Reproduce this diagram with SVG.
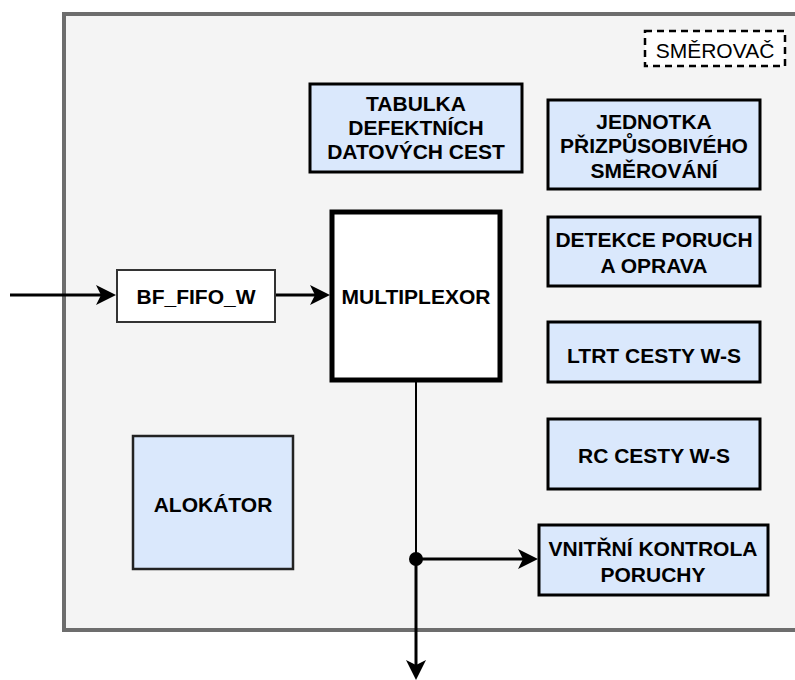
<svg xmlns="http://www.w3.org/2000/svg" width="795" height="680" viewBox="0 0 795 680">
  <style>
    .lbl { font-family: "Liberation Sans", Arial, sans-serif; font-size: 21px; font-weight: bold; fill: #000; text-anchor: middle; }
    .blk { fill: #dae8fc; stroke: #000; stroke-width: 3; }
    .wire { fill: none; stroke: #000; stroke-width: 3; }
  </style>
  <defs>
    <marker id="arrow" viewBox="0 -11 21 22" refX="10" refY="0" markerWidth="21" markerHeight="22" markerUnits="userSpaceOnUse" orient="auto">
      <path d="M20,0 L0,-10 L5,0 L0,10 Z" fill="#000"/>
    </marker>
  </defs>

  <rect width="795" height="680" fill="#fff"/>

  <!-- router frame -->
  <g id="router">
    <rect x="64" y="14" width="740" height="616" fill="#f4f4f4" stroke="#6d6d6d" stroke-width="4"/>
    <rect x="645" y="31" width="140" height="35" fill="#fff" stroke="#000" stroke-width="2.5" stroke-dasharray="7 5"/>
    <text x="715" y="58" font-family="Liberation Sans, Arial, sans-serif" font-size="21" text-anchor="middle" fill="#000">SMĚROVAČ</text>
  </g>

  <g id="tabulka">
    <rect class="blk" x="310" y="84" width="212" height="88"/>
    <text class="lbl" x="416" y="111">TABULKA</text>
    <text class="lbl" x="416" y="135">DEFEKTNÍCH</text>
    <text class="lbl" x="416" y="159">DATOVÝCH CEST</text>
  </g>

  <g id="jednotka">
    <rect class="blk" x="548" y="100" width="212" height="89"/>
    <text class="lbl" x="654" y="129">JEDNOTKA</text>
    <text class="lbl" x="654" y="153">PŘIZPŮSOBIVÉHO</text>
    <text class="lbl" x="654" y="178">SMĚROVÁNÍ</text>
  </g>

  <g id="detekce">
    <rect class="blk" x="548" y="217" width="212" height="69"/>
    <text class="lbl" x="654" y="247">DETEKCE PORUCH</text>
    <text class="lbl" x="654" y="273">A OPRAVA</text>
  </g>

  <g id="ltrt">
    <rect class="blk" x="548" y="322" width="212" height="60"/>
    <text class="lbl" x="654" y="363">LTRT CESTY W-S</text>
  </g>

  <g id="rc">
    <rect class="blk" x="548" y="419" width="212" height="70"/>
    <text class="lbl" x="654" y="463">RC CESTY W-S</text>
  </g>

  <g id="vnitrni">
    <rect class="blk" x="539" y="525" width="229" height="70"/>
    <text class="lbl" x="653" y="556">VNITŘNÍ KONTROLA</text>
    <text class="lbl" x="653" y="582">PORUCHY</text>
  </g>

  <g id="bf_fifo_w">
    <rect x="117" y="270" width="158" height="52" fill="#fff" stroke="#333" stroke-width="2"/>
    <text class="lbl" x="196" y="304">BF_FIFO_W</text>
  </g>

  <g id="multiplexor">
    <rect x="332" y="212" width="168" height="168" fill="#fff" stroke="#000" stroke-width="5"/>
    <text class="lbl" x="416" y="304">MULTIPLEXOR</text>
  </g>

  <g id="alokator">
    <rect x="133" y="436" width="160" height="133" fill="#dae8fc" stroke="#222" stroke-width="2.5"/>
    <text class="lbl" x="213" y="512">ALOKÁTOR</text>
  </g>

  <!-- connectors -->
  <g id="connectors">
    <line class="wire" x1="10" y1="295" x2="106" y2="295" marker-end="url(#arrow)"/>
    <line class="wire" x1="276" y1="295" x2="320" y2="295" marker-end="url(#arrow)"/>
    <line x1="416" y1="382" x2="416" y2="559" stroke="#000" stroke-width="2"/>
    <line class="wire" x1="416" y1="559" x2="416" y2="670" marker-end="url(#arrow)"/>
    <line class="wire" x1="416" y1="559" x2="528" y2="559" marker-end="url(#arrow)"/>
    <circle cx="416" cy="559" r="7" fill="#000"/>
  </g>
</svg>
